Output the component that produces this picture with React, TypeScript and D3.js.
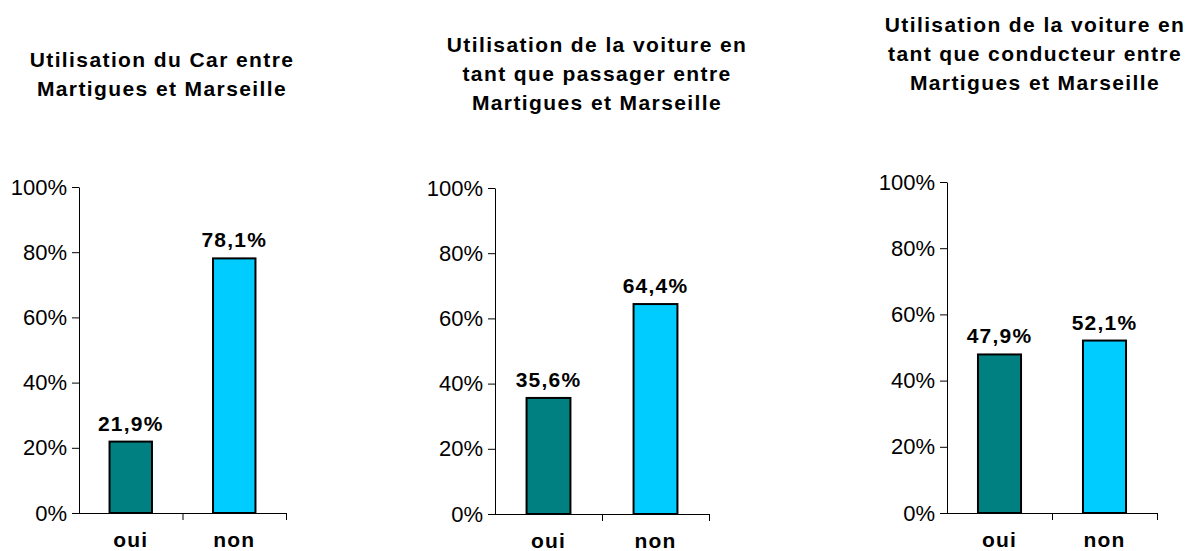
import React, { useEffect, useRef } from 'react';
import * as d3 from 'd3';

const categories = ["oui", "non"];
const carValues = [21.9, 78.1];
const passagerValues = [35.6, 64.4];
const conducteurValues = [47.9, 52.1];
const yTicks = [0, 20, 40, 60, 80, 100];
const titleCar = ["Utilisation du Car entre", "Martigues et Marseille"];
const titlePassager = ["Utilisation de la voiture en", "tant que passager entre", "Martigues et Marseille"];
const titleConducteur = ["Utilisation de la voiture en", "tant que conducteur entre", "Martigues et Marseille"];
const barColors = ["#008080", "#00CCFF"];

// panel layout (plot area boxes and title placement)
const panels = [
    { values: carValues, title: titleCar, left: 79, width: 207, top: 187, bottom: 513, titleX: 162, titleY: 67 },
    { values: passagerValues, title: titlePassager, left: 495, width: 214, top: 188, bottom: 514, titleX: 597, titleY: 52 },
    { values: conducteurValues, title: titleConducteur, left: 947, width: 210, top: 182, bottom: 513, titleX: 1035, titleY: 32 },
];

const font = "'Liberation Sans', Arial, sans-serif";

const App = () => {
    const svgRef = useRef<SVGSVGElement>(null);

    useEffect(() => {
        const width = 1201;
        const height = 551;
        const svg = d3.select(svgRef.current)
            .attr("width", width)
            .attr("height", height)
            .attr("viewBox", [0, 0, width, height].join(" "));
        svg.selectAll("*").remove();

        const fr = d3.formatLocale({ decimal: ",", thousands: " ", grouping: [3], currency: ["", "€"] });
        const fmt = fr.format(".1f");

        panels.forEach((p) => {
            const g = svg.append("g");

            const x = d3.scaleBand()
                .domain(categories)
                .range([p.left, p.left + p.width])
                .padding(0);

            const y = d3.scaleLinear()
                .domain([0, 100])
                .range([p.bottom, p.top]);

            const barW = x.bandwidth() * 0.41;

            // title
            g.append("text")
                .attr("text-anchor", "middle")
                .attr("font-family", font)
                .attr("font-weight", "bold")
                .attr("font-size", 21)
                .attr("letter-spacing", 1.4)
                .selectAll("tspan")
                .data(p.title)
                .join("tspan")
                .attr("x", p.titleX)
                .attr("y", (d, i) => p.titleY + i * 29)
                .text(d => d);

            // bars
            g.append("g")
                .selectAll("rect")
                .data(p.values)
                .join("rect")
                .attr("x", (d, i) => x(categories[i])! + (x.bandwidth() - barW) / 2)
                .attr("y", d => y(d))
                .attr("width", barW)
                .attr("height", d => y(0) - y(d))
                .attr("fill", (d, i) => barColors[i])
                .attr("stroke", "#000")
                .attr("stroke-width", 2);

            // value labels
            g.append("g")
                .attr("font-family", font)
                .attr("font-weight", "bold")
                .attr("font-size", 21)
                .attr("letter-spacing", 1.2)
                .attr("text-anchor", "middle")
                .selectAll("text")
                .data(p.values)
                .join("text")
                .attr("x", (d, i) => x(categories[i])! + x.bandwidth() / 2)
                .attr("y", d => y(d) - 11)
                .text(d => fmt(d) + "%");

            // y axis
            g.append("g")
                .attr("transform", `translate(${p.left},0)`)
                .call(d3.axisLeft(y).tickValues(yTicks).tickFormat(d => d + "%").tickSize(7).tickSizeOuter(0).tickPadding(5))
                .call(a => a.attr("font-family", font).attr("font-size", 22))
                .call(a => a.selectAll("text").attr("fill", "#000"))
                .call(a => a.selectAll("line,path").attr("stroke", "#000"));

            // x axis baseline with ticks at band edges
            g.append("line")
                .attr("x1", p.left)
                .attr("x2", p.left + p.width)
                .attr("y1", y(0) + 0.5)
                .attr("y2", y(0) + 0.5)
                .attr("stroke", "#000");

            const edges = categories.slice(1).map(c => x(c)!).concat([p.left + p.width]);
            g.append("g")
                .selectAll("line")
                .data(edges)
                .join("line")
                .attr("x1", d => d + 0.5)
                .attr("x2", d => d + 0.5)
                .attr("y1", y(0))
                .attr("y2", y(0) + 7)
                .attr("stroke", "#000");

            g.append("g")
                .attr("font-family", font)
                .attr("font-weight", "bold")
                .attr("font-size", 21)
                .attr("letter-spacing", 1.2)
                .attr("text-anchor", "middle")
                .selectAll("text")
                .data(categories)
                .join("text")
                .attr("x", d => x(d)! + x.bandwidth() / 2)
                .attr("y", y(0) + 34)
                .text(d => d);
        });
    }, []);

    return <svg ref={svgRef} style={{ position: "absolute", left: 0, top: 0, background: "#fff" }}></svg>;
};

export default App;
